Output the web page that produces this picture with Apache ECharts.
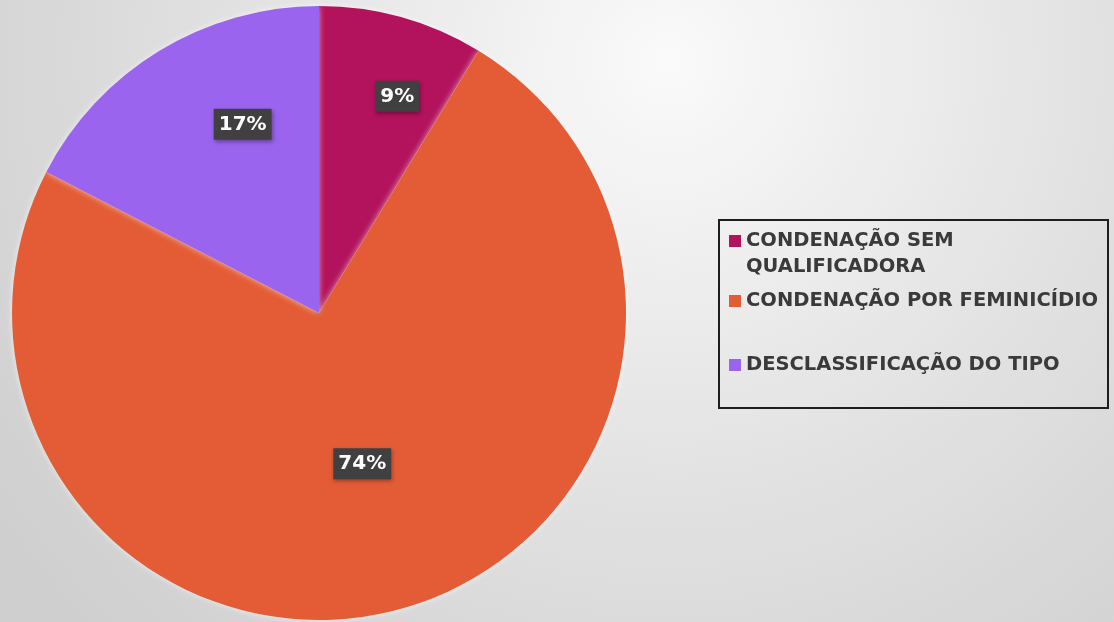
<!DOCTYPE html>
<html lang="pt">
<head>
    <meta charset="UTF-8">
    <title>Condenações</title>
    <style>
        html, body {
            margin: 0;
        }

        #chart {
            width: 1114px;
            height: 622px;
        }
    </style>
</head>
<body>
    <div id="chart"></div>

    <script src="https://cdn.jsdelivr.net/npm/echarts@6/dist/echarts.min.js"></script>
    <script>
        // categorias e percentuais
        var categories = ['CONDENAÇÃO SEM QUALIFICADORA', 'CONDENAÇÃO POR FEMINICÍDIO', 'DESCLASSIFICAÇÃO DO TIPO'];
        var values = [8.7, 73.9, 17.4];
        var colors = ['#b3125c', '#e35c36', '#9a64ee'];

        var myChart = echarts.init(document.getElementById('chart'));

        // deslocamento dos rótulos em relação à posição padrão "inside"
        var labelOffsets = [[36, -66], [1, 0], [5, -55]];
        var legendTops = [202, 288, 352];

        var pieData = categories.map(function(name, i) {
            return {
                name: name,
                value: values[i],
                label: { offset: labelOffsets[i] }
            };
        });

        var legends = categories.map(function(name, i) {
            return {
                orient: 'vertical',
                left: 729,
                top: legendTops[i],
                padding: 0,
                itemWidth: 12,
                itemHeight: 12,
                icon: 'rect',
                data: [name],
                formatter: function(n) {
                    // primeira linha alinhada com o ícone
                    if (n === categories[0]) return '\nCONDENAÇÃO SEM\nQUALIFICADORA';
                    return n;
                },
                textStyle: {
                    color: '#3a3a3a',
                    fontFamily: 'DejaVu Sans',
                    fontWeight: 'bold',
                    fontSize: 19.5,
                    lineHeight: 26
                }
            };
        });

        var option = {
            color: colors,
            backgroundColor: {
                type: 'radial',
                x: 0.6, y: 0.1, r: 1.3,
                colorStops: [
                    { offset: 0, color: '#fafafa' },
                    { offset: 0.5, color: '#e3e3e3' },
                    { offset: 1, color: '#cfcfcf' }
                ]
            },
            legend: legends,
            graphic: [{
                type: 'rect',
                shape: { x: 719, y: 220, width: 389, height: 188 },
                style: { fill: 'none', stroke: '#1e1e1e', lineWidth: 2 }
            }],
            series: [{
                type: 'pie',
                center: [319, 313],
                radius: [0, 307],
                startAngle: 90,
                clockwise: true,
                percentPrecision: 0,
                animation: false,
                itemStyle: {
                    borderWidth: 0,
                    shadowBlur: 6,
                    shadowColor: 'rgba(255,255,255,0.6)'
                },
                label: {
                    position: 'inside',
                    formatter: '{d}%',
                    color: '#ffffff',
                    fontFamily: 'DejaVu Sans',
                    fontWeight: 'bold',
                    fontSize: 20,
                    backgroundColor: '#404040',
                    padding: [6, 5, 5, 5],
                    shadowBlur: 4,
                    shadowColor: 'rgba(0,0,0,0.35)',
                    shadowOffsetX: 1,
                    shadowOffsetY: 2
                },
                labelLine: { show: false },
                emphasis: { disabled: true },
                data: pieData
            }]
        };

        myChart.setOption(option);
    </script>
</body>
</html>
